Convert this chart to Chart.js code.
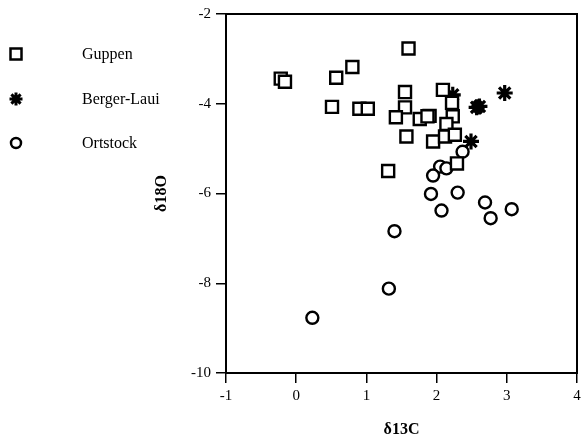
<!DOCTYPE html>
<html>
<head>
<meta charset="utf-8">
<script src="https://cdn.jsdelivr.net/npm/chart.js@4/dist/chart.umd.min.js"></script>
<style>
  body { margin: 0; background: #fff; }
  #wrap { width: 581px; height: 441px; }
</style>
</head>
<body>
<div id="wrap"><canvas id="chart" width="581" height="441"></canvas></div>
<script>
// delta13C / delta18O values
const seriesNames = ['Guppen', 'Berger-Laui', 'Ortstock'];

const guppenX = [1.60, 0.80, 0.57, -0.22, -0.16, 1.55, 2.09, 0.51, 0.90, 1.02, 1.55, 1.42, 1.76, 1.90, 1.87, 2.22, 2.23, 2.14, 1.57, 1.95, 2.12, 2.26, 2.29, 1.31];
const guppenY = [-2.77, -3.18, -3.42, -3.44, -3.51, -3.74, -3.69, -4.07, -4.11, -4.11, -4.08, -4.30, -4.34, -4.27, -4.28, -3.98, -4.28, -4.45, -4.73, -4.84, -4.73, -4.69, -5.33, -5.50];

const bergerX = [2.97, 2.23, 2.57, 2.61, 2.49];
const bergerY = [-3.76, -3.80, -4.08, -4.06, -4.84];

const ortstockX = [2.37, 2.05, 2.14, 1.95, 1.92, 2.30, 2.07, 2.69, 2.77, 3.07, 1.40, 1.32, 0.23];
const ortstockY = [-5.07, -5.40, -5.44, -5.60, -6.01, -5.98, -6.38, -6.20, -6.55, -6.35, -6.84, -8.12, -8.77];

const xTicks = [-1, 0, 1, 2, 3, 4];
const yTicks = [-10, -8, -6, -4, -2];

function toPoints(xs, ys) {
  return xs.map((x, i) => ({ x: x, y: ys[i] }));
}

const serif = "'Liberation Serif', 'DejaVu Serif', serif";

// box around the plot + legend on the left
const framePlugin = {
  id: 'frame',
  afterDraw(chart) {
    const ctx = chart.ctx;
    const a = chart.chartArea;
    ctx.save();
    ctx.strokeStyle = '#000';
    ctx.lineWidth = 2;
    ctx.strokeRect(a.left, a.top, a.right - a.left, a.bottom - a.top);

    const rows = [54, 99, 143];
    const mx = 16;
    ctx.lineWidth = 2.5;
    // square
    ctx.strokeRect(mx - 5.5, rows[0] - 5.5, 11, 11);
    // star
    ctx.lineWidth = 3;
    ctx.beginPath();
    for (let k = 0; k < 4; k++) {
      const ang = k * Math.PI / 4;
      const r = 6.5;
      ctx.moveTo(mx - r * Math.cos(ang), rows[1] - r * Math.sin(ang));
      ctx.lineTo(mx + r * Math.cos(ang), rows[1] + r * Math.sin(ang));
    }
    ctx.stroke();
    // circle
    ctx.lineWidth = 2.5;
    ctx.beginPath();
    ctx.arc(mx, rows[2], 5, 0, Math.PI * 2);
    ctx.stroke();

    ctx.fillStyle = '#000';
    ctx.font = '16px ' + serif;
    ctx.textBaseline = 'middle';
    ctx.textAlign = 'left';
    seriesNames.forEach((n, i) => ctx.fillText(n, 82, rows[i] + 1));
    ctx.restore();
  }
};

const chart = new Chart(document.getElementById('chart'), {
  type: 'scatter',
  data: {
    datasets: [
      {
        label: seriesNames[0],
        data: toPoints(guppenX, guppenY),
        pointStyle: 'rect',
        pointRadius: 8.5,
        borderColor: '#000',
        backgroundColor: '#fff',
        borderWidth: 2.4
      },
      {
        label: seriesNames[1],
        data: toPoints(bergerX, bergerY),
        pointStyle: 'star',
        pointRadius: 8,
        borderColor: '#000',
        backgroundColor: '#000',
        borderWidth: 3.2
      },
      {
        label: seriesNames[2],
        data: toPoints(ortstockX, ortstockY),
        pointStyle: 'circle',
        pointRadius: 6,
        borderColor: '#000',
        backgroundColor: '#fff',
        borderWidth: 2.4
      }
    ]
  },
  options: {
    responsive: false,
    animation: false,
    devicePixelRatio: 1,
    layout: { autoPadding: false, padding: { left: 148, top: 14, right: 4, bottom: 0 } },
    plugins: {
      legend: { display: false },
      tooltip: { enabled: false }
    },
    scales: {
      x: {
        type: 'linear',
        min: -1,
        max: 4,
        afterBuildTicks: s => { s.ticks = xTicks.map(v => ({ value: v })); },
        afterFit: s => { s.height = 68; s.paddingRight = 0; },
        ticks: { color: '#000', padding: 4, font: { family: serif, size: 15 } },
        grid: { drawOnChartArea: false, drawTicks: true, tickLength: 10, color: '#000', lineWidth: 1.5 },
        border: { color: '#000', width: 2 },
        title: {
          display: true,
          text: 'δ13C',
          color: '#000',
          font: { family: serif, size: 16, weight: 'bold' },
          padding: { top: 0, bottom: 2 }
        }
      },
      y: {
        type: 'linear',
        min: -10,
        max: -2,
        afterBuildTicks: s => { s.ticks = yTicks.map(v => ({ value: v })); },
        afterFit: s => { s.width = 78; },
        ticks: { color: '#000', padding: 5, font: { family: serif, size: 15 } },
        grid: { drawOnChartArea: false, drawTicks: true, tickLength: 10, color: '#000', lineWidth: 1.5 },
        border: { color: '#000', width: 2 },
        title: {
          display: true,
          text: 'δ18O',
          color: '#000',
          font: { family: serif, size: 16, weight: 'bold' },
          padding: { top: 4, bottom: 4 }
        }
      }
    }
  },
  plugins: [framePlugin]
});
</script>
</body>
</html>
